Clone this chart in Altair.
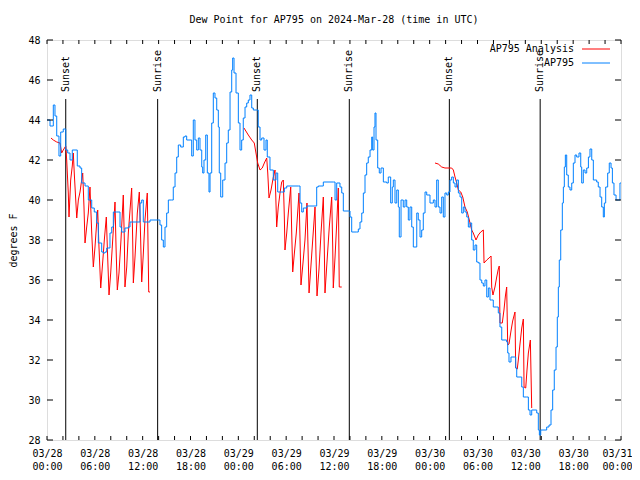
import altair as alt
import pandas as pd

BASE = pd.Timestamp("2024-03-28T00:00:00Z")

# AP795 observations (hours after 2024-03-28 00:00 UTC, degrees F)
blue_hours = [0.0, 0.38, 0.79, 1.0, 1.22, 1.5, 1.72, 2.04, 2.35, 2.6, 2.89, 3.17, 3.51, 3.8, 4.14, 4.35, 4.77,
              5.18, 5.61, 5.93, 6.23, 6.44, 6.65, 6.86, 7.06, 7.28, 7.49, 7.9, 8.12, 8.32, 8.74, 9.16, 9.37,
              9.78, 10.2, 10.41, 11.04, 11.67, 11.88, 12.08, 12.92, 13.9, 14.17, 14.38, 14.59, 14.8, 15.01,
              15.22, 15.64, 15.84, 16.06, 16.27, 16.47, 16.77, 17.1, 17.31, 17.52, 17.94, 18.15, 18.35, 18.56,
              18.78, 18.98, 19.19, 19.41, 19.53, 19.69, 19.91, 20.11, 20.32, 20.45, 20.66, 20.86, 21.07, 21.29,
              21.49, 21.61, 21.79, 22.04, 22.33, 22.54, 22.74, 22.96, 23.17, 23.29, 23.46, 23.71, 24.0, 24.21,
              24.42, 24.62, 24.84, 25.05, 25.25, 25.46, 25.68, 25.88, 26.3, 26.5, 26.72, 26.93, 27.22, 27.47,
              27.63, 27.97, 28.39, 28.73, 28.94, 29.44, 29.77, 30.07, 31.52, 31.74, 31.95, 32.15, 32.58, 33.62,
              33.83, 34.03, 34.66, 35.91, 36.13, 36.34, 36.75, 36.97, 37.17, 37.79, 38.01, 38.22, 38.85, 39.05,
              39.26, 39.48, 39.68, 39.89, 40.1, 40.3, 40.52, 40.73, 40.85, 41.02, 41.14, 41.27, 41.48, 41.68,
              41.9, 42.19, 42.61, 42.81, 43.11, 43.31, 43.44, 43.65, 43.87, 44.07, 44.19, 44.41, 44.69, 44.91,
              45.12, 45.32, 45.53, 45.75, 45.95, 46.16, 46.38, 46.57, 46.79, 47.0, 47.2, 47.42, 47.63, 48.04,
              48.46, 48.67, 48.88, 49.08, 49.3, 49.51, 49.71, 49.92, 50.14, 50.34, 50.55, 50.76, 50.97, 51.18,
              51.39, 51.6, 51.81, 52.02, 52.22, 52.43, 52.65, 52.85, 53.06, 53.27, 53.47, 53.69, 53.9, 54.1,
              54.31, 54.53, 54.73, 54.94, 55.16, 55.36, 55.57, 55.78, 55.98, 56.41, 56.61, 56.82, 57.04, 57.45,
              57.66, 57.79, 57.95, 58.2, 58.62, 58.79, 58.92, 59.33, 59.55, 59.75, 60.17, 60.38, 60.59, 60.8,
              61.21, 61.43, 61.63, 61.76, 61.93, 62.47, 62.68, 62.97, 63.22, 63.43, 63.63, 63.85, 64.01, 64.14,
              64.26, 64.44, 64.64, 64.77, 64.89, 65.02, 65.19, 65.39, 65.6, 65.82, 66.02, 66.23, 66.44, 66.73,
              66.95, 67.07, 67.27, 67.49, 67.7, 67.91, 68.11, 68.33, 68.53, 68.95, 69.15, 69.37, 69.58, 69.78,
              69.91, 70.08, 70.33, 70.53, 70.75, 70.92, 71.12, 71.38, 71.66, 71.87, 72.0]
blue_values = [44.0, 43.7, 44.75, 44.2, 43.2, 42.2, 43.4, 43.55, 42.5, 42.35, 42.0, 42.5, 42.5, 41.7, 41.6, 40.85,
               40.7, 40.0, 39.6, 39.4, 38.85, 37.85, 37.85, 37.4, 37.35, 37.4, 37.6, 38.35, 38.65, 39.4, 39.4,
               38.65, 38.4, 38.6, 38.65, 38.9, 38.9, 39.85, 40.0, 38.9, 39.0, 39.0, 38.75, 38.0, 37.65, 38.65,
               39.35, 40.0, 40.0, 40.65, 41.35, 42.15, 42.75, 42.65, 43.15, 43.2, 43.0, 43.0, 42.2, 44.0, 43.0,
               42.5, 43.1, 42.5, 41.65, 41.35, 42.0, 43.25, 41.35, 40.4, 41.35, 43.85, 45.35, 45.1, 44.5, 43.65,
               41.35, 40.15, 41.0, 41.85, 42.85, 43.5, 45.4, 46.5, 47.1, 46.35, 45.35, 43.85, 42.5, 43.0, 44.1,
               44.65, 44.85, 45.0, 45.25, 44.6, 44.5, 44.5, 43.65, 43.0, 43.1, 42.5, 43.0, 42.15, 41.5, 41.0,
               41.35, 40.4, 40.4, 40.6, 40.7, 40.7, 39.85, 39.4, 39.6, 39.7, 39.7, 40.65, 40.7, 40.9, 40.9, 40.0,
               40.85, 40.65, 40.35, 39.45, 39.45, 39.15, 38.4, 38.4, 38.55, 38.9, 39.35, 40.35, 41.25, 41.85,
               42.15, 42.5, 43.15, 42.5, 43.65, 44.35, 43.0, 41.6, 41.35, 41.6, 40.9, 40.85, 41.15, 39.85, 40.65,
               41.0, 39.85, 40.5, 39.65, 38.15, 40.0, 39.65, 40.0, 39.65, 39.0, 39.65, 38.65, 37.65, 37.65, 39.35,
               39.0, 38.15, 38.5, 39.35, 40.4, 40.25, 39.85, 40.0, 39.65, 41.0, 39.65, 39.35, 40.15, 39.15, 40.35,
               40.25, 40.4, 41.0, 41.15, 40.85, 40.65, 41.0, 40.35, 40.15, 39.35, 39.65, 39.4, 39.15, 38.65, 38.85,
               38.0, 37.5, 37.75, 36.9, 36.85, 36.0, 35.85, 35.7, 36.0, 35.15, 35.6, 35.0, 35.0, 34.65, 34.65,
               34.35, 33.65, 33.0, 33.0, 32.9, 32.35, 31.9, 32.15, 32.15, 31.6, 31.15, 31.15, 30.65, 30.15, 30.15,
               29.5, 29.25, 29.5, 29.5, 29.35, 28.5, 28.25, 28.5, 28.5, 28.65, 28.75, 29.5, 30.5, 31.5, 32.65,
               34.15, 35.65, 37.0, 38.5, 39.85, 40.65, 41.65, 42.25, 41.25, 40.65, 40.5, 40.85, 41.85, 42.25,
               42.15, 42.35, 41.65, 40.85, 41.5, 41.35, 41.6, 42.15, 42.55, 42.0, 41.0, 40.9, 40.65, 40.15, 39.65,
               39.15, 39.85, 40.65, 41.35, 41.85, 41.6, 40.85, 40.25, 40.0, 40.0, 40.85, 40.85]

# AP795 Analysis, one list per night
red1_hours = [0.5, 0.79, 1.22, 1.63, 1.84, 2.04, 2.35, 2.47, 2.67, 2.76, 2.97, 3.17, 3.3, 3.42, 3.73, 3.93, 4.14,
              4.35, 4.48, 4.64, 4.77, 4.98, 5.18, 5.39, 5.61, 5.81, 6.02, 6.23, 6.36, 6.52, 6.74, 6.94, 7.19,
              7.44, 7.61, 7.78, 7.99, 8.24, 8.53, 8.66, 8.82, 9.03, 9.28, 9.57, 9.7, 9.78, 10.0, 10.2, 10.62,
              10.75, 10.83, 11.04, 11.33, 11.58, 11.75, 11.88, 12.08, 12.29, 12.58, 12.76, 12.92]
red1_values = [43.1, 43.0, 42.9, 42.85, 42.35, 42.5, 42.7, 42.0, 40.35, 39.15, 41.0, 41.7, 42.35, 41.35, 39.1,
               40.0, 40.4, 41.0, 41.35, 39.65, 37.85, 38.65, 39.35, 40.65, 38.35, 36.65, 37.65, 38.85, 39.5,
               37.65, 35.6, 36.65, 38.0, 39.15, 37.15, 35.25, 36.35, 38.0, 39.9, 37.65, 35.5, 36.35, 38.0, 40.25,
               38.0, 35.65, 36.65, 38.35, 40.6, 38.0, 35.85, 37.15, 39.35, 40.4, 38.0, 35.9, 37.3, 39.0, 40.35,
               35.4, 35.4]
red2_hours = [24.71, 25.25, 25.68, 26.0, 26.3, 26.43, 26.72, 27.0, 27.26, 27.56, 27.69, 27.85, 28.1, 28.39, 28.6,
              28.81, 29.01, 29.23, 29.44, 29.64, 29.77, 29.85, 30.07, 30.27, 30.57, 30.7, 30.82, 31.02, 31.27,
              31.61, 31.74, 31.86, 32.11, 32.36, 32.61, 32.74, 32.87, 33.08, 33.33, 33.62, 33.74, 33.87, 34.12,
              34.37, 34.66, 34.78, 34.87, 35.08, 35.41, 35.71, 35.84, 35.91, 36.13, 36.38, 36.54, 36.66, 36.97]
red2_values = [43.6, 43.25, 43.0, 42.85, 42.15, 41.85, 41.5, 41.6, 41.85, 42.1, 41.35, 40.1, 40.5, 41.15, 41.5,
               38.65, 39.65, 40.35, 40.9, 41.0, 39.15, 37.5, 38.35, 39.35, 40.65, 38.35, 36.4, 37.3, 38.35, 40.35,
               38.0, 35.75, 36.85, 38.0, 39.85, 37.65, 35.35, 36.55, 38.0, 39.65, 37.3, 35.2, 36.55, 38.35, 40.15,
               37.65, 35.35, 36.65, 38.65, 40.15, 37.65, 35.6, 37.15, 39.15, 40.6, 35.65, 35.65]
red3_hours = [48.67, 49.08, 49.51, 49.92, 50.76, 50.97, 51.18, 51.39, 51.6, 51.9, 52.15, 52.43, 52.72, 52.97,
              53.27, 53.47, 53.81, 54.1, 54.4, 54.73, 54.82, 55.16, 55.45, 55.7, 55.78, 55.94, 56.19, 56.41,
              56.61, 56.73, 56.82, 57.11, 57.32, 57.5, 57.66, 57.79, 57.95, 58.2, 58.41, 58.7, 58.79, 58.99,
              59.12, 59.33, 59.55, 59.75, 59.84, 60.05, 60.21, 60.38, 60.63, 60.8]
red3_values = [41.85, 41.8, 41.65, 41.6, 41.6, 41.5, 41.15, 40.85, 40.5, 40.4, 40.15, 39.65, 39.4, 39.0, 38.5,
               38.35, 38.0, 38.25, 38.4, 38.5, 36.85, 37.0, 37.1, 37.2, 35.65, 35.25, 35.65, 36.15, 36.55, 36.7,
               33.85, 33.85, 34.5, 35.2, 35.65, 32.75, 32.8, 33.45, 33.95, 34.4, 31.6, 31.55, 32.0, 32.8, 33.6,
               34.05, 30.65, 30.6, 31.5, 32.35, 33.0, 29.6]

sun_hours = [2.35, 13.88, 26.38, 37.92, 50.47, 61.86]
sun_labels = ["Sunset", "Sunrise", "Sunset", "Sunrise", "Sunset", "Sunrise"]

y_ticks = [28, 30, 32, 34, 36, 38, 40, 42, 44, 46, 48]
x_label_hours = [0, 6, 12, 18, 24, 30, 36, 42, 48, 54, 60, 66, 72]
x_tick_hours = list(range(0, 73, 2))

legend_labels = ["AP795 Analysis", "AP795"]
legend_colors = ["#ff0000", "#0080ff"]

FONT = "DejaVu Sans Mono"
W, H = 574, 400


def iso(hours):
    return [(BASE + pd.to_timedelta(h, unit="h")).strftime("%Y-%m-%dT%H:%M:%SZ") for h in hours]


def ms(hours):
    return [int((BASE + pd.to_timedelta(h, unit="h")).value // 1_000_000) for h in hours]


blue_df = pd.DataFrame({"time": iso(blue_hours), "value": blue_values})
red_df = pd.concat([
    pd.DataFrame({"time": iso(h), "value": v, "night": i})
    for i, (h, v) in enumerate([(red1_hours, red1_values), (red2_hours, red2_values), (red3_hours, red3_values)])
])
sun_df = pd.DataFrame({"time": iso(sun_hours), "label": sun_labels})
ytick_df = pd.DataFrame({"value": y_ticks})
xtick_df = pd.DataFrame({"time": iso(x_tick_hours)})

xscale = alt.Scale(type="utc", domain=ms([0, 72]))
yscale = alt.Scale(domain=[28, 48], nice=False, zero=False)

last_ms = ms([72])[0]
label_expr = "[utcFormat(datum.value, '%m/%d'), utcFormat(datum.value, '%H:%M')]"
x_axis = alt.Axis(values=ms(x_label_hours), labelExpr=label_expr, ticks=False, domain=False, grid=False,
                  labelPadding=8, labelLineHeight=13, labelFont=FONT, labelFontSize=10, labelColor="black",
                  labelAngle=0, labelBaseline="top", labelFlush=False, labelOverlap=False, labelBound=False,
                  labelOffset={"condition": {"test": f"datum.value >= {last_ms}", "value": -4}, "value": 0},
                  title=None)
y_axis = alt.Axis(values=y_ticks, ticks=False, domain=False, grid=False, labelPadding=7, labelFont=FONT,
                  labelFontSize=10, labelColor="black", labelFlush=False, labelOverlap=False, labelBound=False,
                  title="degrees F", titleFont=FONT, titleFontSize=10,
                  titleFontWeight="normal", titleColor="black", titlePadding=9)


def X(field="time:T"):
    return alt.X(field, scale=xscale, axis=x_axis)


def Y(field="value:Q"):
    return alt.Y(field, scale=yscale, axis=y_axis)


sun_lines = alt.Chart(sun_df).mark_rule(color="black", strokeWidth=1).encode(
    x=X(), y=alt.value(H), y2=alt.value(59))
sun_text = alt.Chart(sun_df).mark_text(angle=270, align="left", baseline="middle", font=FONT, fontSize=10,
                                       color="black").encode(
    x=X(), y=alt.value(52), text="label:N")

red = alt.Chart(red_df).mark_line(color="#ff0000", strokeWidth=1).encode(x=X(), y=Y(), detail="night:N")
blue = alt.Chart(blue_df).mark_line(color="#0080ff", strokeWidth=1, interpolate="step-after").encode(x=X(), y=Y())

ytl = alt.Chart(ytick_df).mark_rule(color="black").encode(y=Y(), x=alt.value(0), x2=alt.value(6))
ytr = alt.Chart(ytick_df).mark_rule(color="black").encode(y=Y(), x=alt.value(W - 6), x2=alt.value(W))
xtb = alt.Chart(xtick_df).mark_rule(color="black").encode(x=X(), y=alt.value(H - 4), y2=alt.value(H))
xtt = alt.Chart(xtick_df).mark_rule(color="black").encode(x=X(), y=alt.value(0), y2=alt.value(4))

legend_layers = []
for i, (lab, col) in enumerate(zip(legend_labels, legend_colors)):
    row_df = pd.DataFrame({"label": [lab]})
    ypix = 9 + 14 * i
    legend_layers.append(alt.Chart(row_df).mark_text(align="right", baseline="middle", font=FONT, fontSize=10,
                                                     color="black").encode(
        x=alt.value(527), y=alt.value(ypix), text="label:N"))
    legend_layers.append(alt.Chart(row_df).mark_rule(strokeWidth=1, color=col).encode(
        x=alt.value(535), x2=alt.value(563), y=alt.value(ypix)))

chart = alt.layer(
    sun_lines, sun_text, red, blue, ytl, ytr, xtb, xtt, *legend_layers
).properties(
    width=W, height=H,
    autosize=alt.AutoSizeParams(type="none"),
    padding={"left": 39, "top": 32, "right": 11, "bottom": 32},
    title=alt.TitleParams("Dew Point for AP795 on 2024-Mar-28 (time in UTC)", font=FONT, fontSize=10,
                          fontWeight="normal", color="black", anchor="middle", offset=10),
).configure_view(stroke="black", strokeWidth=1).configure(background="white")

chart.save("out.html", embed_options={"renderer": "svg", "actions": False})
